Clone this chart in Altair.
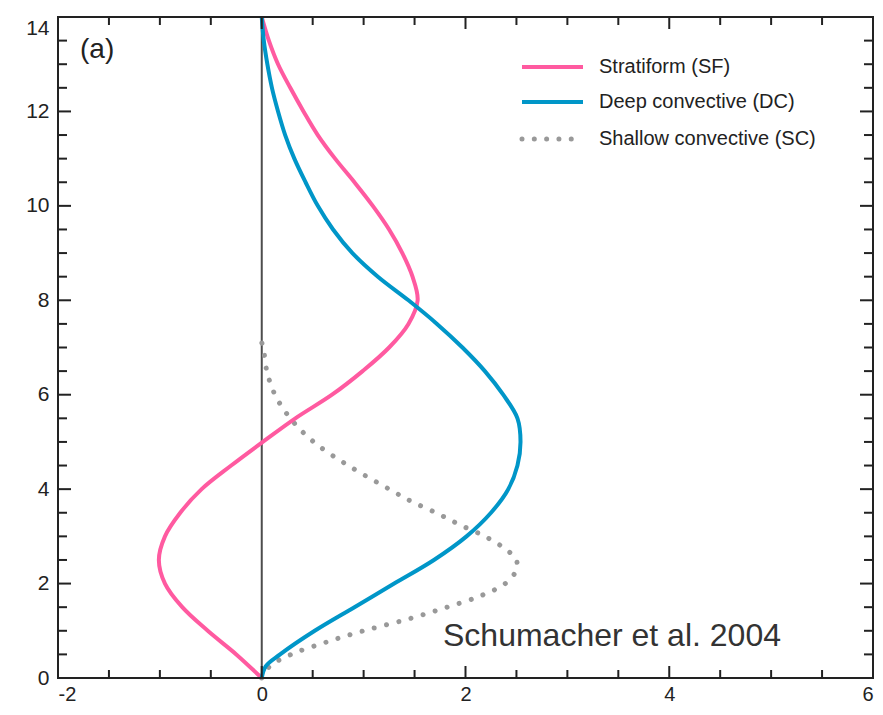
import altair as alt
import pandas as pd
import numpy as np

# ---- data ----
sf_h = [0, 0.5, 1, 1.5, 2, 2.5, 3, 3.5, 4, 4.5, 5, 5.5, 6, 6.5, 7, 7.5, 8, 8.5, 9, 9.5, 10, 10.5, 11, 11.5, 12, 12.5, 13, 13.5, 14]
sf_v = [0, -0.25, -0.53, -0.78, -0.95, -1.01, -0.95, -0.80, -0.59, -0.30, 0.01, 0.33, 0.69, 0.99, 1.25, 1.44, 1.53, 1.48, 1.38, 1.25, 1.09, 0.91, 0.72, 0.55, 0.41, 0.28, 0.16, 0.07, 0]

dc_h = [0, 0.25, 0.5, 1, 1.5, 2, 2.5, 3, 3.5, 4, 4.5, 5, 5.5, 6, 6.5, 7, 7.5, 8, 8.5, 9, 9.5, 10, 10.5, 11, 11.5, 12, 12.5, 13, 13.5, 14]
dc_v = [0, 0.04, 0.18, 0.52, 0.91, 1.30, 1.69, 2.01, 2.25, 2.42, 2.51, 2.54, 2.51, 2.37, 2.19, 1.97, 1.72, 1.44, 1.14, 0.89, 0.70, 0.55, 0.43, 0.32, 0.23, 0.16, 0.10, 0.055, 0.02, 0]

sc_h = [0, 0.25, 0.5, 0.75, 1.0, 1.25, 1.5, 1.75, 2.0, 2.25, 2.5, 2.75, 3.0, 3.25, 3.5, 3.75, 4.0, 4.5, 5.0, 5.5, 6.0, 6.5, 7.0, 7.1]
sc_v = [0, 0.08, 0.29, 0.62, 1.00, 1.44, 1.82, 2.16, 2.39, 2.49, 2.50, 2.38, 2.19, 1.94, 1.71, 1.46, 1.25, 0.85, 0.51, 0.28, 0.13, 0.05, 0.015, 0]

x_major = [-2, 0, 2, 4, 6]
x_minor = [v for v in np.arange(-2, 6.01, 0.5).tolist() if v not in x_major]
y_major = [0, 2, 4, 6, 8, 10, 12, 14]
y_minor = [v for v in np.arange(0, 14.01, 0.5).tolist() if v not in y_major]

names = ["Stratiform (SF)", "Deep convective (DC)", "Shallow convective (SC)"]
colors = ["#ff5aa0", "#0096c8", "#999999"]

W, H = 815, 661
FONT = "Liberation Sans"

xs = alt.Scale(domain=[-2, 6], nice=False, zero=False)
ys = alt.Scale(domain=[0, 14], nice=False, zero=False)

def X(field="v"):
    return alt.X(f"{field}:Q", scale=xs, title=None)

def Y(field="h"):
    return alt.Y(f"{field}:Q", scale=ys, title=None)

# axes (labels only; ticks drawn inward below)
base_df = pd.DataFrame({"v": [0], "h": [0], "h2": [14]})
zero_line = alt.Chart(base_df).mark_rule(color="#4d4d4d", strokeWidth=2).encode(
    x=alt.X("v:Q", scale=xs, title=None,
            axis=alt.Axis(values=x_major, labelExpr="'' + datum.value", ticks=False, domain=False,
                          grid=False, labelFontSize=20, labelFont=FONT, labelColor="#222222",
                          labelPadding=6)),
    y=alt.Y("h:Q", scale=ys, title=None,
            axis=alt.Axis(values=y_major, labelExpr="'' + datum.value", ticks=False, domain=False,
                          grid=False, labelFontSize=21, labelFont=FONT, labelColor="#222222",
                          labelPadding=9,
                          labelBaseline={"condition": {"test": "datum.value == 14", "value": "top"},
                                         "value": "middle"})),
    y2="h2:Q",
)

def curve(h, v, color, dash=None):
    df = pd.DataFrame({"h": h, "v": v})
    kw = dict(color=color, strokeWidth=4, interpolate="catmull-rom")
    if dash:
        kw.update(strokeDash=dash, strokeCap="round", strokeWidth=5)
    return alt.Chart(df).mark_line(**kw).encode(x=X(), y=Y(), order="h:Q")

sc_line = curve(sc_h, sc_v, colors[2], dash=[0.01, 12.6])
sf_line = curve(sf_h, sf_v, colors[0])
dc_line = curve(dc_h, dc_v, colors[1])

# inward ticks
def xticks(vals, length, top):
    df = pd.DataFrame({"v": vals})
    if top:
        yy, yy2 = alt.value(0), alt.value(length)
    else:
        yy, yy2 = alt.value(H), alt.value(H - length)
    return alt.Chart(df).mark_rule(color="#222222", strokeWidth=2).encode(x=X(), y=yy, y2=yy2)

def yticks(vals, length, right):
    df = pd.DataFrame({"h": vals})
    if right:
        xx, xx2 = alt.value(W), alt.value(W - length)
    else:
        xx, xx2 = alt.value(0), alt.value(length)
    return alt.Chart(df).mark_rule(color="#222222", strokeWidth=2).encode(y=Y(), x=xx, x2=xx2)

ticks = [
    xticks(x_major, 12, False), xticks(x_minor, 8, False),
    xticks(x_major, 12, True), xticks(x_minor, 8, True),
    yticks(y_major, 13, False), yticks(y_minor, 9, False),
    yticks(y_major, 13, True), yticks(y_minor, 9, True),
]

one = pd.DataFrame({"a": [0]})
frame = alt.Chart(one).mark_rect(filled=False, stroke="#222222", strokeWidth=2).encode(
    x=alt.value(0), x2=alt.value(W), y=alt.value(0), y2=alt.value(H))

# legend (manual)
legend_layers = []
leg_y = [50, 85, 122]
for i, (nm, col) in enumerate(zip(names, colors)):
    if i == 2:
        ln = alt.Chart(one).mark_rule(color=col, strokeWidth=5, strokeDash=[0.01, 12.3], strokeCap="round")
    else:
        ln = alt.Chart(one).mark_rule(color=col, strokeWidth=4)
    legend_layers.append(ln.encode(x=alt.value(464), x2=alt.value(525), y=alt.value(leg_y[i])))
    legend_layers.append(
        alt.Chart(one).mark_text(text=nm, align="left", baseline="middle", fontSize=20, font=FONT,
                                 color="#222222").encode(x=alt.value(541), y=alt.value(leg_y[i]))
    )

label_a = alt.Chart(one).mark_text(text="(a)", align="left", baseline="alphabetic", fontSize=28,
                                   font=FONT, color="#222222").encode(x=alt.value(22), y=alt.value(41))
citation = alt.Chart(one).mark_text(text="Schumacher et al. 2004", align="left", baseline="alphabetic",
                                    fontSize=32, font=FONT, color="#333333").encode(
    x=alt.value(385), y=alt.value(629))

chart = alt.layer(
    zero_line, sc_line, sf_line, dc_line, *ticks, frame, *legend_layers, label_a, citation
).properties(
    width=W, height=H,
    autosize=alt.AutoSizeParams(type="none"),
    padding={"left": 50, "top": 9, "right": 2, "bottom": 29},
).configure_view(stroke="#222222", strokeWidth=2).configure(background="white")

chart.save("out.html", embed_options={"renderer": "svg", "actions": False})
